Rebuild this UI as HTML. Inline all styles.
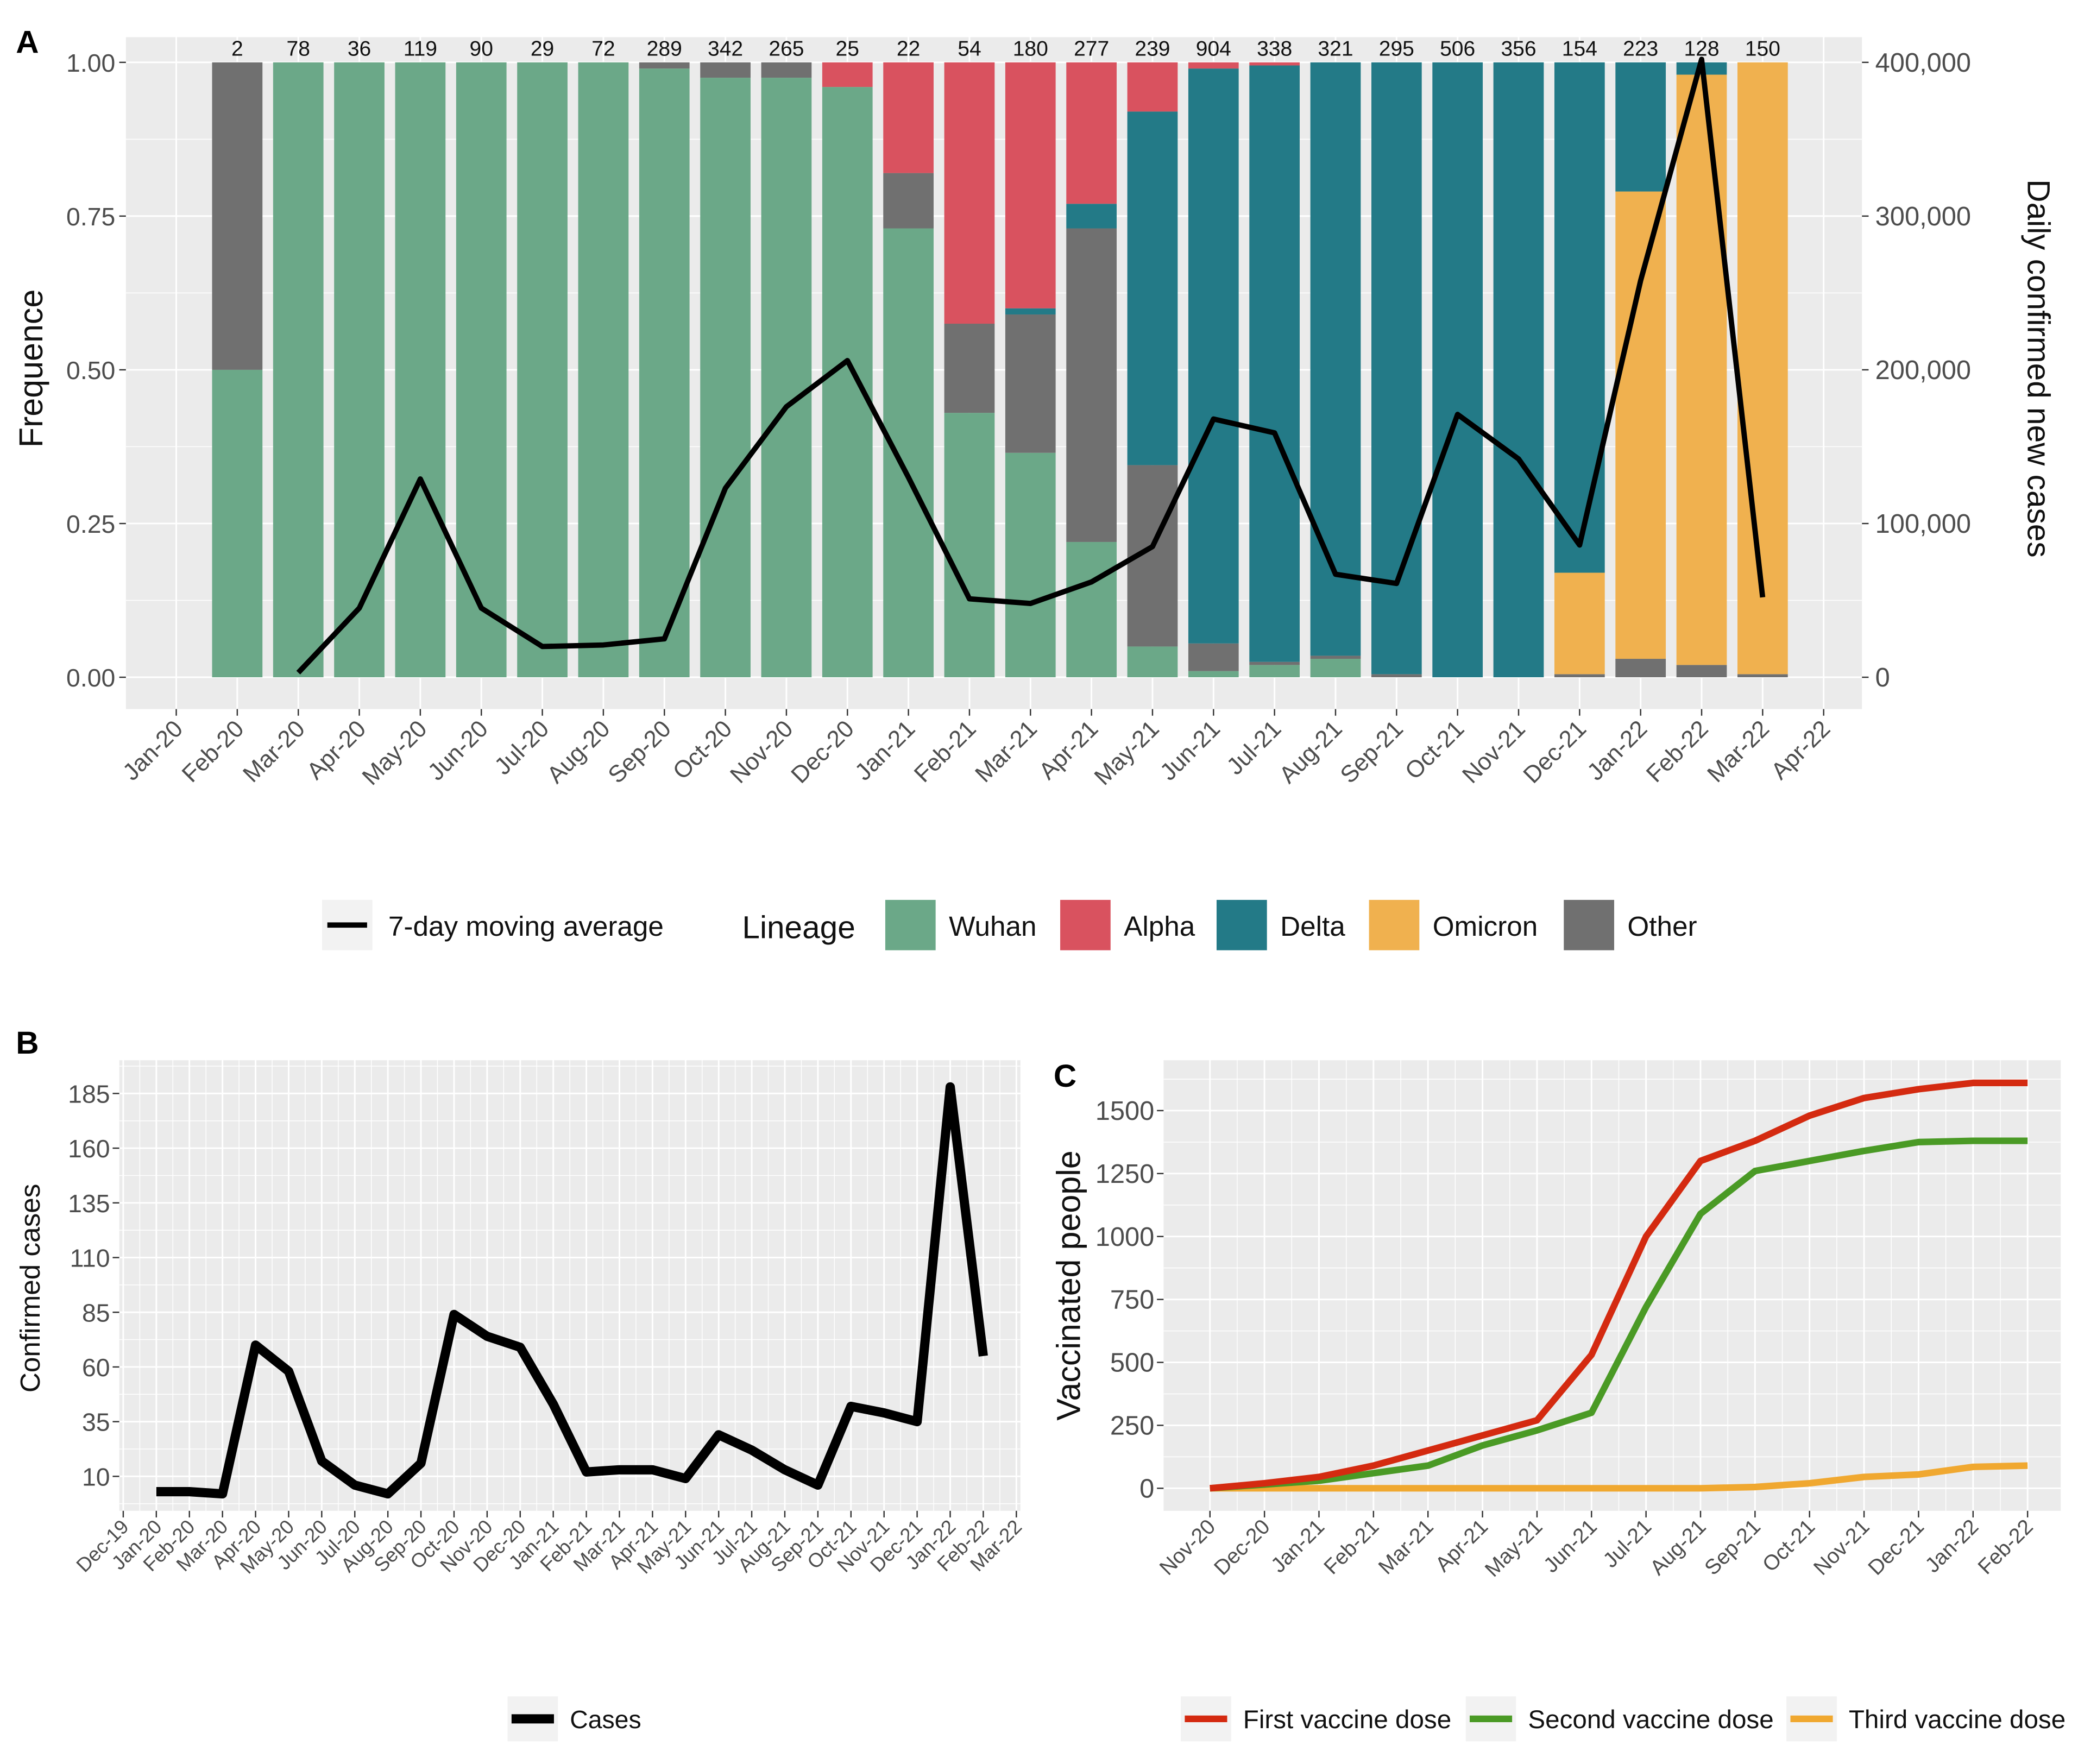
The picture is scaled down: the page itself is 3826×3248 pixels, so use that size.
<!DOCTYPE html>
<html><head><meta charset="utf-8"><style>
html,body{margin:0;padding:0;background:#fff}
svg{display:block;font-family:"Liberation Sans",sans-serif}
</style></head><body>
<svg id="s" width="3826" height="3248" viewBox="0 0 1568 1331" xmlns="http://www.w3.org/2000/svg">
<rect width="1568" height="1331" fill="#fff"/>
</svg>
<script>
// ---- Panel A data ----
const monthsA=["Jan-20","Feb-20","Mar-20","Apr-20","May-20","Jun-20","Jul-20","Aug-20","Sep-20","Oct-20","Nov-20","Dec-20","Jan-21","Feb-21","Mar-21","Apr-21","May-21","Jun-21","Jul-21","Aug-21","Sep-21","Oct-21","Nov-21","Dec-21","Jan-22","Feb-22","Mar-22","Apr-22"];
const barMonths=["Feb-20","Mar-20","Apr-20","May-20","Jun-20","Jul-20","Aug-20","Sep-20","Oct-20","Nov-20","Dec-20","Jan-21","Feb-21","Mar-21","Apr-21","May-21","Jun-21","Jul-21","Aug-21","Sep-21","Oct-21","Nov-21","Dec-21","Jan-22","Feb-22","Mar-22"];
const counts=[2,78,36,119,90,29,72,289,342,265,25,22,54,180,277,239,904,338,321,295,506,356,154,223,128,150];
const wuhan=[.5,1,1,1,1,1,1,.99,.975,.975,.96,.73,.43,.365,.22,.05,.01,.02,.03,0,0,0,0,0,0,0];
const other=[.5,0,0,0,0,0,0,.01,.025,.025,0,.09,.145,.225,.51,.295,.045,.005,.005,.005,0,0,.005,.03,.02,.005];
const omicron=[0,0,0,0,0,0,0,0,0,0,0,0,0,0,0,0,0,0,0,0,0,0,.165,.76,.96,.995];
const delta=[0,0,0,0,0,0,0,0,0,0,0,0,0,.01,.04,.575,.935,.97,.965,.995,1,1,.83,.21,.02,0];
const alpha=[0,0,0,0,0,0,0,0,0,0,.04,.18,.425,.40,.23,.08,.01,.005,0,0,0,0,0,0,0,0];
const maMonths=["Mar-20","Apr-20","May-20","Jun-20","Jul-20","Aug-20","Sep-20","Oct-20","Nov-20","Dec-20","Jan-21","Feb-21","Mar-21","Apr-21","May-21","Jun-21","Jul-21","Aug-21","Sep-21","Oct-21","Nov-21","Dec-21","Jan-22","Feb-22","Mar-22"];
const maValues=[3000,45000,129000,45000,20000,21000,25000,123000,176000,206000,130000,51000,48000,62000,85000,168000,159000,67000,61000,171000,142000,86000,258000,402000,52000];
const leftTicks=[0,0.25,0.5,0.75,1];
const rightTicks=[0,100000,200000,300000,400000];
// ---- Panel B data ----
const monthsB=["Dec-19","Jan-20","Feb-20","Mar-20","Apr-20","May-20","Jun-20","Jul-20","Aug-20","Sep-20","Oct-20","Nov-20","Dec-20","Jan-21","Feb-21","Mar-21","Apr-21","May-21","Jun-21","Jul-21","Aug-21","Sep-21","Oct-21","Nov-21","Dec-21","Jan-22","Feb-22","Mar-22"];
const casesB=[3,3,2,70,58,17,6,2,16,84,74,69,43,12,13,13,9,29,22,13,6,42,39,35,188,65];
const ticksB=[10,35,60,85,110,135,160,185];
// ---- Panel C data ----
const monthsC=["Nov-20","Dec-20","Jan-21","Feb-21","Mar-21","Apr-21","May-21","Jun-21","Jul-21","Aug-21","Sep-21","Oct-21","Nov-21","Dec-21","Jan-22","Feb-22"];
const firstDose=[0,20,45,90,150,210,270,530,1000,1300,1380,1480,1550,1585,1610,1610];
const secondDose=[0,15,30,60,90,170,230,300,720,1090,1260,1300,1340,1375,1380,1380];
const thirdDose=[0,0,0,0,0,0,0,0,0,0,5,20,45,55,85,90];
const ticksC=[0,250,500,750,1000,1250,1500];

const S=document.getElementById('s');const NS="http://www.w3.org/2000/svg";
function el(t,a,p){const e=document.createElementNS(NS,t);for(const k in a)e.setAttribute(k,a[k]);(p||S).appendChild(e);return e;}
function txt(s,a,p){const e=el('text',a,p);e.textContent=s;return e;}
const fmt=n=>n.toLocaleString('en-US');
const COL={wuhan:"#6BA888",alpha:"#D9525F",delta:"#237A87",omicron:"#F0B14F",other:"#707070"};

// ===== Panel A =====
const gA=el('g',{});
const xA=m=>133+monthsA.indexOf(m)*46.04;
const yA=v=>511-v*464;
const yR=v=>511-v/400000*464;
el('rect',{x:95,y:28,width:1310,height:507,fill:"#EBEBEB"},gA);
leftTicks.forEach((t,i)=>{if(i<leftTicks.length-1)el('line',{x1:95,x2:1405,y1:yA(t+0.125),y2:yA(t+0.125),stroke:"#fff","stroke-width":0.6},gA);});
monthsA.forEach(m=>el('line',{x1:xA(m),x2:xA(m),y1:28,y2:535,stroke:"#fff","stroke-width":1.2},gA));
leftTicks.forEach(t=>{el('line',{x1:95,x2:1405,y1:yA(t),y2:yA(t),stroke:"#fff","stroke-width":1.2},gA);
 el('line',{x1:90,x2:95,y1:yA(t),y2:yA(t),stroke:"#333"},gA);
 txt(t.toFixed(2),{x:87,y:yA(t)+7,"text-anchor":"end","font-size":19,fill:"#4D4D4D"},gA);});
rightTicks.forEach(t=>{el('line',{x1:1405,x2:1410,y1:yR(t),y2:yR(t),stroke:"#333"},gA);
 txt(fmt(t),{x:1415,y:yR(t)+7,"font-size":20,fill:"#4D4D4D"},gA);});
barMonths.forEach((m,i)=>{let b=0;const x=xA(m)-19;
 [["wuhan",wuhan],["other",other],["omicron",omicron],["delta",delta],["alpha",alpha]].forEach(([k,arr])=>{const v=arr[i];if(v>0){
  const r=el('rect',{x:x,width:38,y:yA(b+v),height:v*464,fill:COL[k]},gA);
  
  b+=v;}});
 const c=txt(String(counts[i]),{x:xA(m),y:42,"text-anchor":"middle","font-size":16,fill:"#111"},gA);
 });
const ln=el('polyline',{points:maMonths.map((m,i)=>xA(m)+","+yR(maValues[i])).join(" "),fill:"none",stroke:"#000","stroke-width":4,"stroke-linejoin":"round"},gA);

monthsA.forEach(m=>{el('line',{x1:xA(m),x2:xA(m),y1:535,y2:540,stroke:"#333"},gA);
 txt(m,{x:xA(m)+6,y:551,"text-anchor":"end","font-size":18,fill:"#4D4D4D",transform:`rotate(-45 ${xA(m)+6} 551)`},gA);});
txt("Frequence",{x:32,y:278,"text-anchor":"middle","font-size":25,fill:"#111",transform:"rotate(-90 32 278)"},gA);
txt("Daily confirmed new cases",{x:1530,y:278,"text-anchor":"middle","font-size":24,fill:"#111",transform:"rotate(90 1530 278)"},gA);
txt("A",{x:12,y:40,"font-size":24,"font-weight":"bold"},gA);
// legend A
const lgA=el('g',{},gA);
el('rect',{x:243,y:679,width:38,height:38,fill:"#F2F2F2"},lgA);
el('line',{x1:247,x2:277,y1:698,y2:698,stroke:"#000","stroke-width":4},lgA);
txt("7-day moving average",{x:293,y:706,"font-size":21,fill:"#111"},lgA);
txt("Lineage",{x:560,y:708,"font-size":24,fill:"#111"},lgA);
[["wuhan","Wuhan",668],["alpha","Alpha",800],["delta","Delta",918],["omicron","Omicron",1033],["other","Other",1180]].forEach(([k,l,x])=>{
 el('rect',{x:x,y:679,width:38,height:38,fill:COL[k]},lgA);txt(l,{x:x+48,y:706,"font-size":21,fill:"#111"},lgA);});

// ===== Panel B =====
const gB=el('g',{});
const xB=m=>93+monthsB.indexOf(m)*24.96;
const yB=v=>1114-(v-10)*1.651;
el('rect',{x:90,y:800,width:680,height:340,fill:"#EBEBEB"},gB);
for(let v=-2.5;v<=200;v+=12.5)el('line',{x1:90,x2:770,y1:yB(v),y2:yB(v),stroke:"#fff","stroke-width":0.6},gB);
for(let i=0;i<monthsB.length-1;i++){const x=93+(i+0.5)*24.96;el('line',{x1:x,x2:x,y1:800,y2:1140,stroke:"#fff","stroke-width":0.6},gB);}
monthsB.forEach(m=>{el('line',{x1:xB(m),x2:xB(m),y1:800,y2:1140,stroke:"#fff","stroke-width":1.2},gB);
 el('line',{x1:xB(m),x2:xB(m),y1:1140,y2:1145,stroke:"#333"},gB);
 txt(m,{x:xB(m)+5,y:1153,"text-anchor":"end","font-size":15,fill:"#4D4D4D",transform:`rotate(-45 ${xB(m)+5} 1153)`},gB);});
ticksB.forEach(t=>{el('line',{x1:90,x2:770,y1:yB(t),y2:yB(t),stroke:"#fff","stroke-width":1.2},gB);
 el('line',{x1:85,x2:90,y1:yB(t),y2:yB(t),stroke:"#333"},gB);
 txt(String(t),{x:83,y:yB(t)+7,"text-anchor":"end","font-size":19,fill:"#4D4D4D"},gB);});
const lb=el('polyline',{points:casesB.map((v,i)=>xB(monthsB[i+1])+","+yB(v)).join(" "),fill:"none",stroke:"#000","stroke-width":7,"stroke-linejoin":"round"},gB);

txt("Confirmed cases",{x:30,y:972,"text-anchor":"middle","font-size":21,fill:"#111",transform:"rotate(-90 30 972)"},gB);
txt("B",{x:12,y:795,"font-size":24,"font-weight":"bold"},gB);
el('rect',{x:383,y:1280,width:38,height:34,fill:"#F2F2F2"},gB);
el('line',{x1:386,x2:418,y1:1297,y2:1297,stroke:"#000","stroke-width":7},gB);
txt("Cases",{x:430,y:1304,"font-size":19,fill:"#111"},gB);

// ===== Panel C =====
const gC=el('g',{});
const xC=m=>913+monthsC.indexOf(m)*41.13;
const yC=v=>1123-v*0.19;
el('rect',{x:878,y:800,width:677,height:340,fill:"#EBEBEB"},gC);
for(let v=-125;v<=1750;v+=250)el('line',{x1:878,x2:1555,y1:yC(v),y2:yC(v),stroke:"#fff","stroke-width":0.6},gC);
for(let i=0;i<monthsC.length-1;i++){const x=913+(i+0.5)*41.13;el('line',{x1:x,x2:x,y1:800,y2:1140,stroke:"#fff","stroke-width":0.6},gC);}
monthsC.forEach(m=>{el('line',{x1:xC(m),x2:xC(m),y1:800,y2:1140,stroke:"#fff","stroke-width":1.2},gC);
 el('line',{x1:xC(m),x2:xC(m),y1:1140,y2:1145,stroke:"#333"},gC);
 txt(m,{x:xC(m)+5,y:1153,"text-anchor":"end","font-size":16,fill:"#4D4D4D",transform:`rotate(-45 ${xC(m)+5} 1153)`},gC);});
ticksC.forEach(t=>{el('line',{x1:878,x2:1555,y1:yC(t),y2:yC(t),stroke:"#fff","stroke-width":1.2},gC);
 el('line',{x1:873,x2:878,y1:yC(t),y2:yC(t),stroke:"#333"},gC);
 txt(String(t),{x:871,y:yC(t)+7,"text-anchor":"end","font-size":20,fill:"#4D4D4D"},gC);});
[[thirdDose,"#F0A830","third-dose-line"],[secondDose,"#4A9A25","second-dose-line"],[firstDose,"#D42A10","first-dose-line"]].forEach(([arr,c,n])=>{
 const p=el('polyline',{points:arr.map((v,i)=>xC(monthsC[i])+","+yC(v)).join(" "),fill:"none",stroke:c,"stroke-width":5,"stroke-linejoin":"round"},gC);
 });
txt("Vaccinated people",{x:815,y:970,"text-anchor":"middle","font-size":25,fill:"#111",transform:"rotate(-90 815 970)"},gC);
txt("C",{x:795,y:820,"font-size":24,"font-weight":"bold"},gC);
[["#D42A10","First vaccine dose",891],["#4A9A25","Second vaccine dose",1106],["#F0A830","Third vaccine dose",1348]].forEach(([c,l,x])=>{
 el('rect',{x:x,y:1280,width:38,height:34,fill:"#F2F2F2"},gC);
 el('line',{x1:x+3,x2:x+35,y1:1297,y2:1297,stroke:c,"stroke-width":5},gC);
 txt(l,{x:x+47,y:1304,"font-size":19.5,fill:"#111"},gC);});
</script>
</body></html>
